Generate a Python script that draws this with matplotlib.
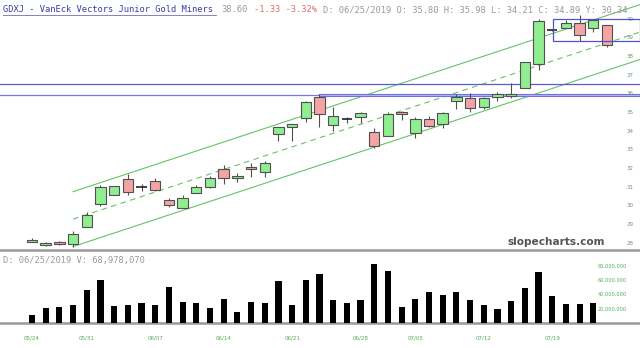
import matplotlib
matplotlib.use("Agg")
import matplotlib.pyplot as plt
from matplotlib.patches import Rectangle
from matplotlib.lines import Line2D

# daily candles 05/24/2019 .. 07/25/2019
dates = ["05/24", "05/28", "05/29", "05/30", "05/31",
         "06/03", "06/04", "06/05", "06/06", "06/07",
         "06/10", "06/11", "06/12", "06/13", "06/14",
         "06/17", "06/18", "06/19", "06/20", "06/21",
         "06/24", "06/25", "06/26", "06/27", "06/28",
         "07/01", "07/02", "07/03", "07/05",
         "07/08", "07/09", "07/10", "07/11", "07/12",
         "07/15", "07/16", "07/17", "07/18", "07/19",
         "07/22", "07/23", "07/24", "07/25"]
opens = [28.08, 27.90, 28.06, 27.93, 28.88, 30.07, 30.57, 31.41, 31.00, 31.32,
         30.31, 29.86, 30.66, 30.99, 31.95, 31.50, 32.09, 31.79, 33.84, 34.20,
         34.68, 35.80, 34.32, 34.62, 34.77, 33.97, 33.73, 35.00, 33.88, 34.63,
         34.38, 35.62, 35.78, 35.30, 35.80, 35.85, 36.29, 37.59, 39.41, 39.50,
         39.77, 39.50, 39.68]
highs = [28.25, 28.08, 28.10, 28.62, 29.68, 31.11, 31.08, 31.68, 31.16, 31.47,
         30.40, 30.56, 31.11, 31.59, 32.18, 31.73, 32.27, 32.39, 34.23, 34.38,
         35.62, 35.98, 35.30, 34.73, 35.00, 34.15, 35.04, 35.07, 34.77, 34.80,
         35.03, 35.97, 36.02, 35.80, 36.11, 36.56, 37.71, 39.98, 39.45, 39.95,
         40.20, 39.95, 39.70]
lows = [28.05, 27.85, 27.90, 27.77, 28.86, 30.00, 30.55, 30.57, 30.77, 30.77,
        29.91, 29.86, 30.66, 30.93, 31.16, 31.29, 31.52, 31.55, 33.48, 33.48,
        34.50, 34.21, 34.02, 34.41, 34.45, 33.07, 33.73, 34.59, 33.61, 34.20,
        34.15, 35.18, 35.03, 35.16, 35.61, 35.78, 36.29, 37.27, 39.38, 39.50,
        38.82, 39.29, 38.48]
closes = [28.18, 27.98, 27.97, 28.48, 29.50, 31.02, 31.04, 30.75, 31.02, 30.84,
          30.02, 30.43, 30.99, 31.47, 31.47, 31.58, 31.96, 32.30, 34.20, 34.36,
          35.57, 34.89, 34.80, 34.64, 34.95, 33.20, 34.90, 34.91, 34.63, 34.27,
          34.95, 35.84, 35.25, 35.75, 36.00, 36.00, 37.68, 39.89, 39.43, 39.77,
          39.14, 39.93, 38.60]
# volume in millions (no bar for the last day)
volumes = [11, 21.7, 23, 25.5, 47, 60, 24, 25.5, 28, 25.5,
           51, 29, 28, 21.7, 34, 15, 29.4, 28, 59, 25.5,
           61, 68.98, 32.8, 28.4, 31.8, 83.4, 73.7, 23, 34, 43.4,
           40, 43.4, 32.8, 25, 19.3, 30.4, 49, 71.3, 37.6, 26.5,
           26.5, 28.4]
date_ticks = ["05/24", "05/31", "06/07", "06/14", "06/21", "06/28", "07/05", "07/12", "07/19"]
price_ticks = list(range(28, 41))
vol_ticks = [20, 40, 60, 80]

W, H = 640, 348
fig = plt.figure(figsize=(W / 100, H / 100), dpi=100)
fig.patch.set_facecolor("white")

x0 = -32 / 13.69
x1 = (640 - 32) / 13.69

# price panel
ax = fig.add_axes([0, (H - 250) / H, 1, 250 / H])
ax.set_xlim(x0, x1)
ax.set_ylim(40 - 231 / 18.67, 40 + 19 / 18.67)
ax.axis("off")

green = "#90ee90"
pink = "#f4a4a4"
edge = "#505050"
for i in range(len(opens)):
    o, h, l, c = opens[i], highs[i], lows[i], closes[i]
    ax.vlines(i, l, h, color=edge, lw=0.8, zorder=3)
    lo, hi = min(o, c), max(o, c)
    if hi - lo < 0.04:
        # doji
        ax.hlines((o + c) / 2, i - 0.38, i + 0.38, color="#222222", lw=1.2, zorder=4)
    else:
        ax.bar(i, hi - lo, bottom=lo, width=0.76, color=green if c >= o else pink,
               edgecolor=edge, linewidth=0.8, zorder=4)

# trend channel
slope = 0.242
xs = [3, x1]
for base, ls in [(30.75, "-"), (29.28, (0, (5, 4))), (27.81, "-")]:
    ax.plot(xs, [base, base + slope * (x1 - 3)], color="#66c266", lw=0.8, ls=ls, zorder=2)

# horizontal levels
ax.axhline(36.50, color="#5a5ad6", lw=0.9, zorder=2)
ax.axhline(35.93, color="#7a7ae0", lw=0.9, zorder=2)
ax.add_patch(Rectangle((21, 35.86), x1 - 21, 0.13, facecolor="#b4bcf2",
                       edgecolor="#7070e0", lw=0.8, zorder=2))
ax.add_patch(Rectangle((38.06, 38.82), x1 - 38.06, 40.0 - 38.82, facecolor="none",
                       edgecolor="#5050d0", lw=0.9, zorder=5))

for p in price_ticks:
    ax.text(630 / 640, p, str(p), transform=ax.get_yaxis_transform(), ha="center",
            va="center", fontsize=4, color="#6a9a6a")

fig.text(556 / W, 1 - 242 / H, "slopecharts.com", ha="center", va="center",
         fontsize=7.6, fontweight="bold", color="#555555", family="DejaVu Sans")

# volume panel
axv = fig.add_axes([0, (H - 323) / H, 1, 71 / H])
axv.set_xlim(x0, x1)
axv.set_ylim(0, 71 / 0.709)
axv.bar(range(len(volumes)), volumes, width=0.45, color="black", zorder=3)
for s in ["top", "left", "right"]:
    axv.spines[s].set_visible(False)
axv.spines["bottom"].set_color("#999999")
axv.spines["bottom"].set_linewidth(1.8)
axv.set_yticks([])
axv.set_xticks([dates.index(d) for d in date_ticks])
axv.set_xticklabels(date_ticks, fontsize=4, color="#55aa55")
axv.tick_params(axis="x", length=0, pad=9)
for v in vol_ticks:
    axv.text(612 / 640, v, f"{v},000,000", transform=axv.get_yaxis_transform(),
             ha="center", va="center", fontsize=3.6, color="#55aa55")

# separator between panels
fig.add_artist(Line2D([0, 1], [1 - 250 / H, 1 - 250 / H], color="#999999", lw=1.8))

# header texts
cw = 5.33
mono = "DejaVu Sans Mono"
def put(col, s, color, y=10):
    fig.text((3 + col * cw) / W, 1 - y / H, s, ha="left", va="center",
             fontsize=6.3, family=mono, color=color)

title = "GDXJ - VanEck Vectors Junior Gold Miners"
put(0, title, "#3a3aa8")
fig.add_artist(Line2D([3 / W, (3 + len(title) * cw) / W], [1 - 14.5 / H] * 2,
                      color="#8080d0", lw=0.7))
put(41, "38.60", "#999999")
put(47, "-1.33 -3.32%", "#e07070")
put(60, "D: 06/25/2019 O: 35.80 H: 35.98 L: 34.21 C: 34.89 Y: 30.34", "#999999")
put(0, "D: 06/25/2019 V: 68,978,070", "#999999", y=260)

fig.savefig("out.png", dpi=100)
